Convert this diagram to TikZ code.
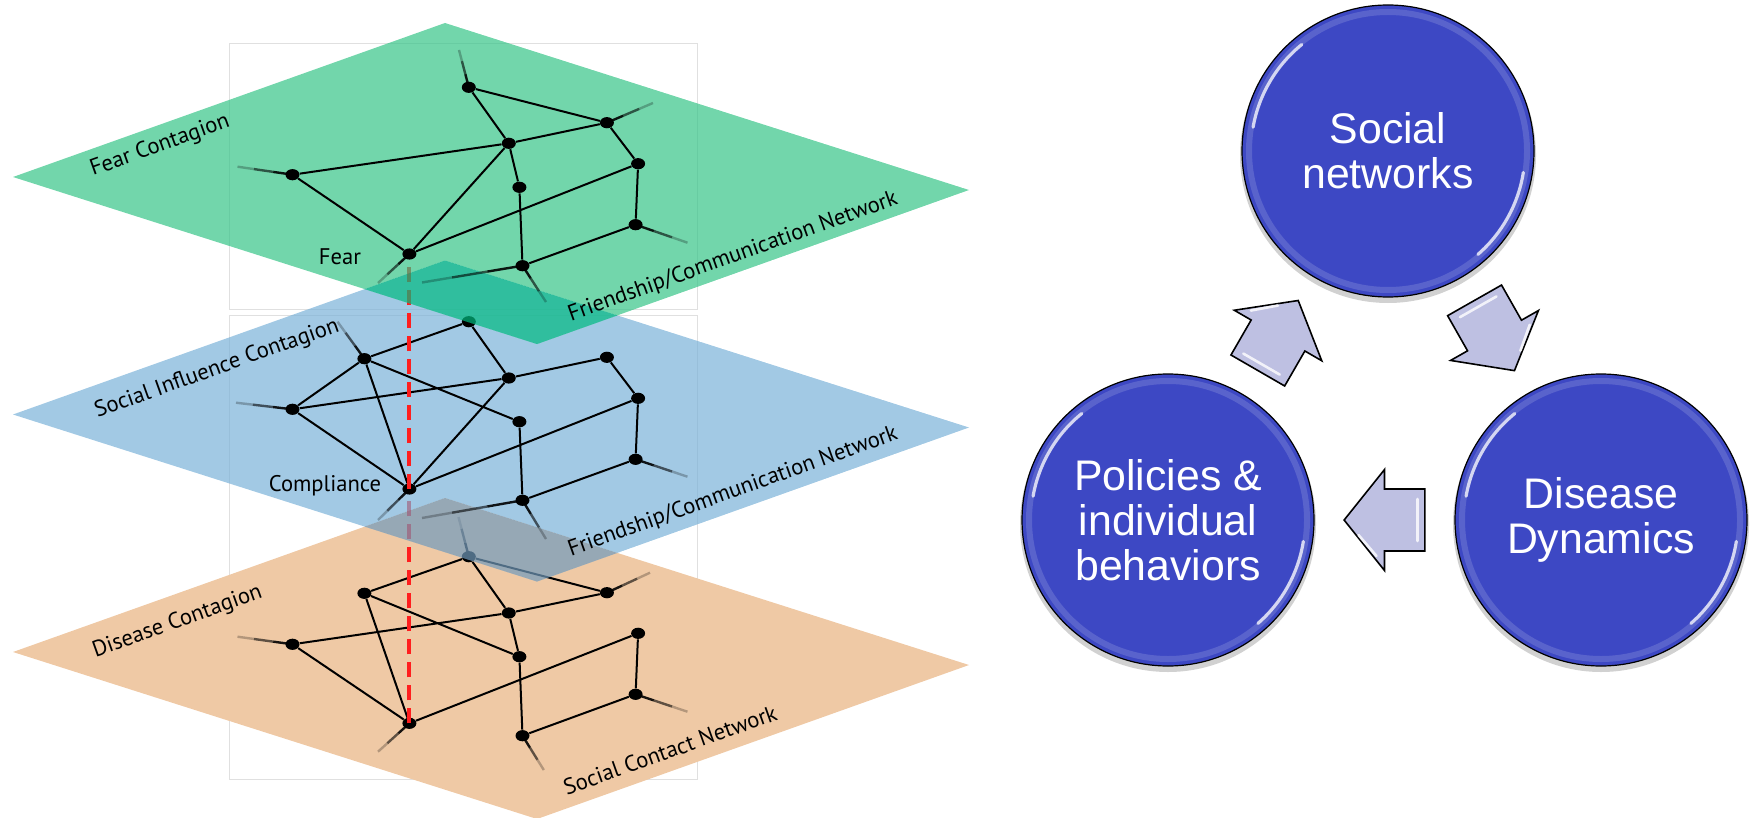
\documentclass[tikz,border=0pt]{standalone}
\usepackage{fontspec}
\newfontfamily\layerfont{PT Sans}
\newfontfamily\circfont{Liberation Sans}
\usetikzlibrary{calc,shapes.geometric}
\definecolor{greenL}{RGB}{54,196,136}
\definecolor{greenOv}{RGB}{0,187,128}
\definecolor{blueL}{RGB}{122,178,216}
\definecolor{blueOv}{RGB}{113,154,188}
\definecolor{orangeL}{RGB}{239,201,165}
\definecolor{circblue}{RGB}{61,72,196}
\definecolor{arrowfill}{RGB}{190,192,226}
\definecolor{dashred}{RGB}{255,30,30}
\def\Gd{(445,23) -- (969,190) -- (537,344) -- (13,177) -- cycle}
\def\Bd{(445,260.5) -- (969,427.5) -- (537,581.5) -- (13,414.5) -- cycle}
\def\Od{(445,498) -- (969,665) -- (537,819) -- (13,652) -- cycle}
\newcommand\stubto[2]{%
  \draw[stubst, draw opacity=0.9] (#1.center) -- ($(#1.center)!0.35!(#2)$);
  \draw[stubst, draw opacity=0.6] ($(#1.center)!0.35!(#2)$) -- ($(#1.center)!0.7!(#2)$);
  \draw[stubst, draw opacity=0.25] ($(#1.center)!0.7!(#2)$) -- (#2);}
\tikzset{
  netnode/.style={ellipse, fill=black, inner sep=0pt, minimum width=7pt, minimum height=5.6pt},
  netedge/.style={black, line width=1pt},
  stubst/.style={black, line width=1.2pt},
  reddash/.style={dashred, line width=2pt, dash pattern=on 7.5pt off 4pt},
  lbl/.style={font=\layerfont\fontsize{11.3}{13}\selectfont, inner sep=0pt, text=black},
  bigcirc/.style={circle, draw=black, line width=0.6pt, fill=circblue, minimum size=146pt,
    inner sep=0pt, text=white, align=center, font=\circfont\fontsize{21.4}{22.6}\selectfont},
  hl/.style={white, draw opacity=0.75, line width=1.6pt, line cap=round},
  arrowst/.style={draw=black, line width=0.8pt, fill=arrowfill, line join=miter},
  pics/fatarrow/.style={code={
    \draw[arrowst] (-40.4,-31) -- (0,-31) -- (0,-50.5) -- (40.4,0) -- (0,50.5) -- (0,31) -- (-40.4,31) -- cycle;
    \draw[white, draw opacity=0.8, line width=1.3pt, line cap=round] (-33,-21) -- (-33,21);
    \draw[white, draw opacity=0.8, line width=1.3pt, line cap=round] (8,-36) -- (26,-15);
  }}
}
\begin{document}
\begin{tikzpicture}[x=0.5pt,y=-0.5pt]
\useasboundingbox (0,0) rectangle (1754,818);
% faint frames
\draw[black!12, line width=0.4pt] (229,43) rectangle (697,309);
\draw[black!12, line width=0.4pt] (229,315) rectangle (697,779);

% ===== bottom layer: social contact network =====
\fill[orangeL] \Od;
\node[netnode] (o1) at (468.8,556.7) {};
\node[netnode] (o2) at (364.4,593.3) {};
\node[netnode] (o3) at (606.9,592.7) {};
\node[netnode] (o4) at (508.8,613) {};
\node[netnode] (o5) at (292.5,644.3) {};
\node[netnode] (o6) at (638.1,633.3) {};
\node[netnode] (o7) at (519.4,656.7) {};
\node[netnode] (o8) at (635.6,694.3) {};
\node[netnode] (oD) at (409.4,723.3) {};
\node[netnode] (o9) at (522.5,735.7) {};
\coordinate (o1s) at (458.5,517);
\coordinate (o3s) at (650,572.7);
\coordinate (o5s) at (237.5,636.7);
\coordinate (o8s) at (687.5,711.7);
\coordinate (oDs) at (378,751.7);
\coordinate (o9s) at (543.8,770);
\stubto{o1}{o1s}\stubto{o3}{o3s}\stubto{o5}{o5s}\stubto{o8}{o8s}\stubto{oD}{oDs}\stubto{o9}{o9s}
\draw[netedge] (o1)--(o2) (o1)--(o4) (o1)--(o3) (o2)--(oD) (o2)--(o7) (o4)--(o5)
  (o4)--(o3) (o4)--(o7) (o5)--(oD) (oD)--(o6) (o6)--(o8) (o7)--(o9) (o8)--(o9);
\draw[reddash] (oD.center) -- (409.4,489);

% ===== middle layer =====
\begin{scope}
  \clip \Bd;
  \fill[blueL, fill opacity=0.7, even odd rule] \Bd \Od;
  \fill[blueOv, fill opacity=0.7] \Od;
\end{scope}
\node[netnode] (b1) at (468.8,321.7) {};
\node[netnode] (b2) at (364.4,358.7) {};
\node[netnode] (b3) at (606.9,357.3) {};
\node[netnode] (b4) at (508.8,378) {};
\node[netnode] (b5) at (292.5,409.3) {};
\node[netnode] (b6) at (638.1,398.3) {};
\node[netnode] (b7) at (519.4,421.7) {};
\node[netnode] (b8) at (635.6,459.3) {};
\node[netnode] (bC) at (409.4,489) {};
\node[netnode] (b9) at (522.5,500.3) {};
\coordinate (b2s) at (337.5,321.7);
\coordinate (b5s) at (236,402.7);
\coordinate (b8s) at (687.5,476.7);
\coordinate (bCs) at (378,520);
\coordinate (b9s) at (422,518);
\coordinate (b9t) at (546,539);
\stubto{b2}{b2s}\stubto{b5}{b5s}\stubto{b8}{b8s}\stubto{bC}{bCs}\stubto{b9}{b9s}\stubto{b9}{b9t}
\draw[netedge] (b1)--(b2) (b1)--(b4) (b2)--(b5) (b2)--(bC) (b2)--(b7) (b3)--(b4) (b3)--(b6)
  (b4)--(b5) (b4)--(bC) (b5)--(bC) (b6)--(bC) (b6)--(b8) (b7)--(b9) (b8)--(b9);
\draw[reddash] (bC.center) -- (409.4,254);

% ===== top layer =====
\begin{scope}
  \clip \Gd;
  \fill[greenL, fill opacity=0.7, even odd rule] \Gd \Bd;
  \fill[greenOv, fill opacity=0.7] \Bd;
\end{scope}
\node[netnode] (g1) at (468.8,87.3) {};
\node[netnode] (g2) at (606.9,122.7) {};
\node[netnode] (g3) at (508.8,143.3) {};
\node[netnode] (g4) at (292.5,174.7) {};
\node[netnode] (g5) at (638.1,163.7) {};
\node[netnode] (g6) at (519.4,187.3) {};
\node[netnode] (g7) at (635.6,224.7) {};
\node[netnode] (gF) at (409.4,254) {};
\node[netnode] (g9) at (522.5,265.7) {};
\coordinate (g1s) at (459,50);
\coordinate (g2s) at (653,103);
\coordinate (g4s) at (237.5,166.7);
\coordinate (g7s) at (687.5,242.7);
\coordinate (gFs) at (378,283);
\coordinate (g9s) at (422,282.5);
\coordinate (g9t) at (546,302);
\stubto{g1}{g1s}\stubto{g2}{g2s}\stubto{g4}{g4s}\stubto{g7}{g7s}\stubto{gF}{gFs}\stubto{g9}{g9s}\stubto{g9}{g9t}
\draw[netedge] (g1)--(g2) (g1)--(g3) (g2)--(g3) (g2)--(g5) (g3)--(g4) (g3)--(gF) (g3)--(g6)
  (g4)--(gF) (g5)--(gF) (g5)--(g7) (g6)--(g9) (g7)--(g9);

% ===== layer labels =====
\node[lbl, rotate=19.7] (tFearC) at (160,146) {Fear Contagion};
\node[lbl] (tFear) at (340,257) {Fear};
\node[lbl, rotate=19.7] (tNetG) at (733,257) {Friendship/Communication Network};
\node[lbl, rotate=19.7] (tSocInf) at (217,369) {Social Influence Contagion};
\node[lbl] (tComp) at (325,486) {Compliance};
\node[lbl, rotate=19.7] (tNetB) at (733,492) {Friendship/Communication Network};
\node[lbl, rotate=19.7] (tDis) at (177.5,622) {Disease Contagion};
\node[lbl, rotate=19.7] (tSCN) at (670,750) {Social Contact Network};

% ===== right cycle =====
\coordinate (socc) at (1388,151);
\coordinate (polc) at (1168,520);
\coordinate (disc) at (1601,520);
\foreach \c in {socc,polc,disc}{
  \fill[black, fill opacity=0.18] ($(\c)+(0,4)$) circle[radius=148];
}
\node[bigcirc] (soc) at (socc) {Social\\networks};
\node[bigcirc] (pol) at (polc) {Policies \&\\individual\\behaviors};
\node[bigcirc] (dis) at (disc) {Disease\\Dynamics};
\foreach \c in {soc,pol,dis}{
  \draw[white, draw opacity=0.15, line width=3pt] (\c.center) circle[radius=139];
  \draw[hl] ($(\c.center)+(-129:137)$) arc[start angle=-129, end angle=-170, radius=137];
  \draw[hl] ($(\c.center)+(49:137)$) arc[start angle=49, end angle=9, radius=137];
}
\pic[rotate=60] at ($(pol)!0.5!(soc)$) {fatarrow};
\pic[rotate=-60.4] at ($(soc)!0.5!(dis)$) {fatarrow};
\pic[rotate=180] at ($(dis)!0.5!(pol)$) {fatarrow};
\end{tikzpicture}
\end{document}
